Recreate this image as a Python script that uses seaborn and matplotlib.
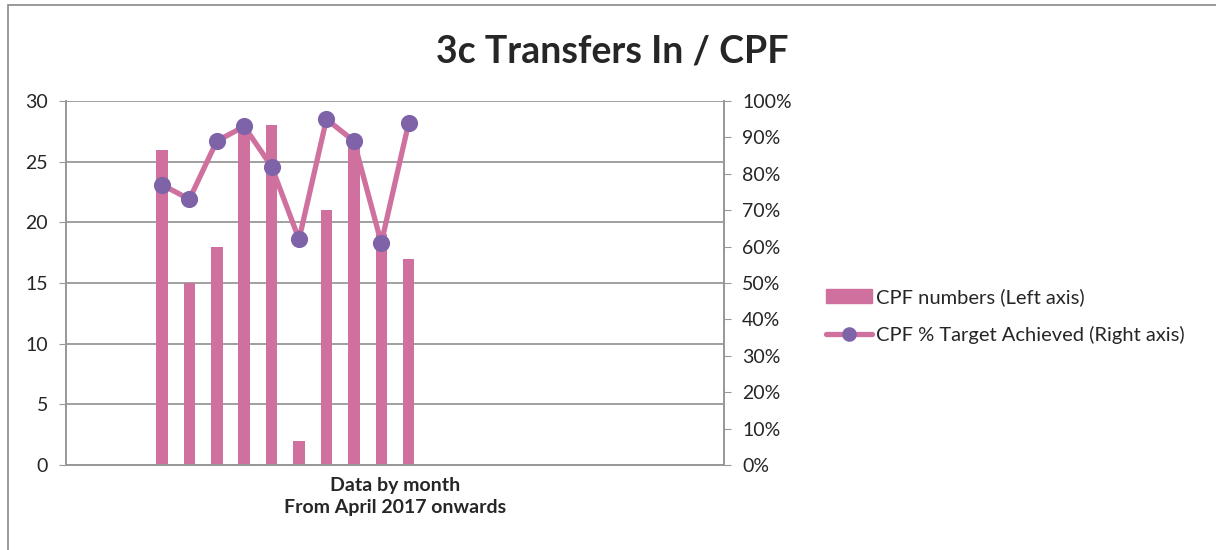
import numpy as np
import pandas as pd
import seaborn as sns
from matplotlib import pyplot as plt
from matplotlib.patches import Rectangle
from matplotlib.lines import Line2D
from matplotlib.ticker import PercentFormatter

# monthly slots on the category axis (Jan 2017 .. Dec 2018), data starts April 2017
months = [f'{m} {y}' for y in (2017, 2018)
          for m in ['Jan', 'Feb', 'Mar', 'Apr', 'May', 'Jun',
                    'Jul', 'Aug', 'Sep', 'Oct', 'Nov', 'Dec']]
data_months = ['Apr 2017', 'May 2017', 'Jun 2017', 'Jul 2017', 'Aug 2017',
               'Sep 2017', 'Oct 2017', 'Nov 2017', 'Dec 2017', 'Jan 2018']
cpf_numbers = [26, 15, 18, 28, 28, 2, 21, 27, 19, 17]
cpf_pct = [0.77, 0.73, 0.89, 0.93, 0.82, 0.62, 0.95, 0.89, 0.61, 0.94]

bar_color = '#D0709E'
marker_color = '#7F63A8'
grid_color = '#999999'

sns.set_style('white')
plt.rcParams['font.family'] = ['Lato', 'DejaVu Sans']

df = pd.DataFrame({'month': data_months, 'numbers': cpf_numbers,
                   'pct': cpf_pct})

fig = plt.figure(figsize=(12.16, 5.5), dpi=100)
ax = fig.add_axes([66 / 1216, 1 - 465 / 550, 658 / 1216, 364 / 550])

sns.barplot(data=df, x='month', y='numbers', order=months, ax=ax,
            color=bar_color, width=0.42, saturation=1, linewidth=0,
            zorder=2)
ax.set_ylim(0, 30)
ax.set_yticks(np.arange(0, 31, 5))
ax.set_xlim(-0.5, len(months) - 0.5)
ax.set_xticks([])
ax.yaxis.grid(True, color=grid_color, linewidth=1.3, zorder=0)
ax.set_axisbelow(True)
ax.set_ylabel('')
ax.set_xlabel('Data by month\nFrom April 2017 onwards', fontsize=14,
              fontweight='bold', labelpad=9, linespacing=1.3)
ax.tick_params(axis='y', labelsize=14, length=5, color=grid_color,
               direction='out', left=True, pad=8)

ax2 = ax.twinx()
sns.pointplot(data=df, x='month', y='pct', order=months, ax=ax2,
              color=bar_color, errorbar=None, markers='o', linewidth=3.8,
              markersize=9.5)
for line in ax2.lines:
    line.set_markerfacecolor(marker_color)
    line.set_markeredgecolor(marker_color)
    line.set_zorder(5)
ax2.set_ylim(0, 1)
ax2.set_yticks(np.arange(0, 1.01, 0.1))
ax2.yaxis.set_major_formatter(PercentFormatter(1.0, decimals=0))
ax2.set_ylabel('')
ax2.set_xlim(-0.5, len(months) - 0.5)
ax2.tick_params(axis='y', labelsize=14, length=5, color=grid_color,
                direction='out', right=True, pad=8)

for a in (ax, ax2):
    for side in ('left', 'right', 'bottom'):
        a.spines[side].set_color(grid_color)
        a.spines[side].set_linewidth(1.3)
    a.spines['top'].set_visible(False)

fig.text(612 / 1216, 1 - 52 / 550, '3c Transfers In / CPF', ha='center',
         va='center', fontsize=27, fontweight='bold')

handles = [Rectangle((0, 0), 1, 1, color=bar_color),
           Line2D([], [], color=bar_color, linewidth=3.8, marker='o',
                  markersize=9.5, markerfacecolor=marker_color,
                  markeredgecolor=marker_color)]
fig.legend(handles, ['CPF numbers (Left axis)',
                     'CPF % Target Achieved (Right axis)'],
           loc='center left', bbox_to_anchor=(808 / 1216, 1 - 316 / 550),
           frameon=False, fontsize=14.5, handlelength=2.3, handletextpad=0.2,
           labelspacing=1.0)

fig.patches.append(Rectangle((8 / 1216, -0.05), 1.1, 1 - 5 / 550 + 0.05,
                             transform=fig.transFigure, fill=False,
                             edgecolor='#888888', linewidth=1.2))

fig.savefig('out.png', dpi=100)
